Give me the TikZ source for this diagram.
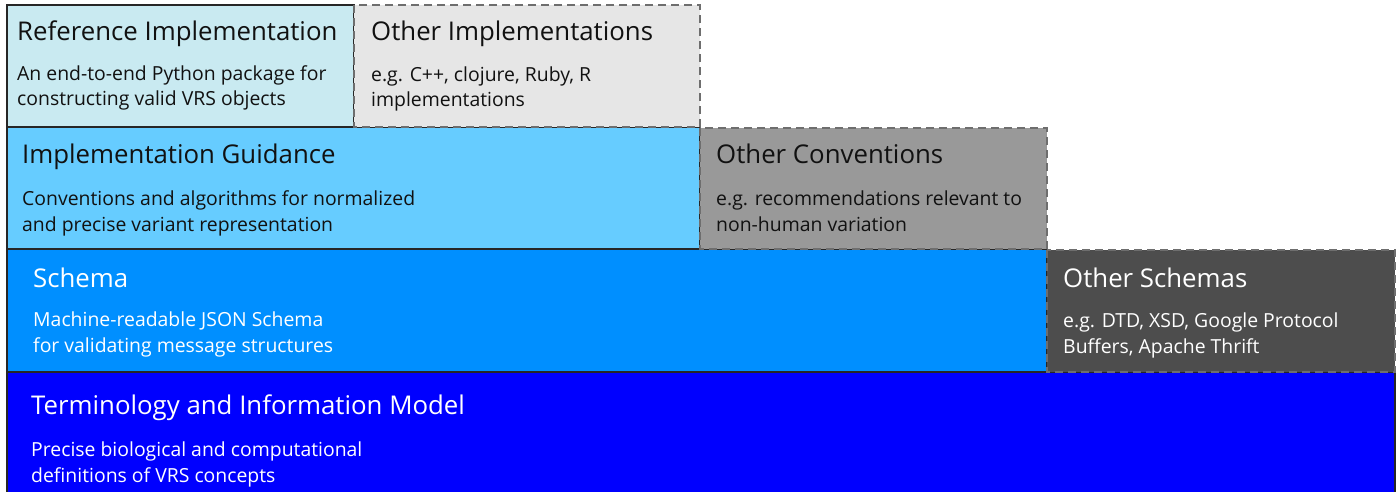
\documentclass[tikz,border=0pt]{standalone}
\usepackage{fontspec}
\setmainfont{Open Sans}
\definecolor{refc}{HTML}{C9EAF1}
\definecolor{othimpl}{HTML}{E6E6E6}
\definecolor{guidec}{HTML}{66CCFF}
\definecolor{othconv}{HTML}{999999}
\definecolor{schemac}{HTML}{008FFF}
\definecolor{othschema}{HTML}{4D4D4D}
\definecolor{termc}{HTML}{0000FF}
\definecolor{edgec}{HTML}{262626}
\definecolor{dashc}{HTML}{6E6E6E}
\definecolor{txt}{HTML}{111111}
\tikzset{
  solidbox/.style={draw=edgec, line width=2pt},
  dashbox/.style={draw=dashc, line width=1.6pt, dash pattern=on 8pt off 5pt},
  ttl/.style={anchor=base west, inner sep=0pt, font=\fontsize{25.8}{30}\selectfont},
  sub/.style={anchor=base west, inner sep=0pt, align=left, font=\fontsize{19.4}{25.5}\selectfont},
}
\begin{document}
\begin{tikzpicture}[x=1pt,y=-1pt]
\useasboundingbox (0,0) rectangle (1398,492);
% row 4
\path[fill=termc, solidbox] (7,372) rectangle (1395,494);
% row 3
\path[fill=schemac, solidbox] (7,249) rectangle (1047,372);
\path[fill=othschema, dashbox] (1047,250) rectangle (1395,372);
% row 2
\path[fill=guidec, solidbox] (7,127) rectangle (700,249);
\path[fill=othconv, dashbox] (700,128) rectangle (1047,249);
% row 1
\path[fill=refc, solidbox] (7,5) rectangle (354,127);
\path[fill=othimpl, dashbox] (354,5) rectangle (700,127);

\node[ttl, text=txt] (reft) at (17,41) {Reference Implementation};
\node[sub, text=txt] (refs) at (17,106) {An end-to-end Python package for\\constructing valid VRS objects};
\node[ttl, text=txt] (oit) at (371,41) {Other Implementations};
\node[sub, text=txt] (ois) at (371,107) {e.g. C++, clojure, Ruby, R\\implementations};
\node[ttl, text=txt] (igt) at (22,164) {Implementation Guidance};
\node[sub, text=txt] (igs) at (22,231) {Conventions and algorithms for normalized\\and precise variant representation};
\node[ttl, text=txt] (oct) at (716,164) {Other Conventions};
\node[sub, text=txt] (ocs) at (716,231) {e.g. recommendations relevant to\\non-human variation};
\node[ttl, text=white] (sct) at (33,287) {Schema};
\node[sub, text=white] (scs) at (33,352) {Machine-readable JSON Schema\\for validating message structures};
\node[ttl, text=white] (ost) at (1063,287) {Other Schemas};
\node[sub, text=white] (oss) at (1063,353) {e.g. DTD, XSD, Google Protocol\\Buffers, Apache Thrift};
\node[ttl, text=white] (tmt) at (31,414) {Terminology and Information Model};
\node[sub, text=white] (tms) at (31,482) {Precise biological and computational\\definitions of VRS concepts};
\end{tikzpicture}
\end{document}
